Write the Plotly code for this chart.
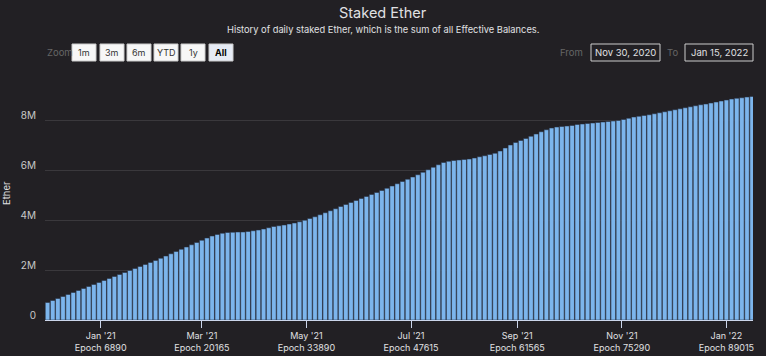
import pandas as pd
import plotly.graph_objects as go

# ---- data (values in millions of ETH, one bar per 3 days) ----
start_date = "2020-12-01"
staked_m = [
    0.70, 0.78, 0.86, 0.94, 1.02, 1.10, 1.18, 1.26, 1.34, 1.42,
    1.50, 1.58, 1.66, 1.74, 1.82, 1.90, 1.98, 2.06, 2.14, 2.22,
    2.30, 2.38, 2.47, 2.56, 2.65, 2.74, 2.83, 2.92, 3.01, 3.10,
    3.19, 3.28, 3.36, 3.42, 3.47, 3.50, 3.51, 3.52, 3.52, 3.54,
    3.57, 3.60, 3.64, 3.69, 3.74, 3.77, 3.80, 3.84, 3.88, 3.93,
    3.99, 4.06, 4.13, 4.21, 4.29, 4.37, 4.45, 4.54, 4.62, 4.70,
    4.78, 4.86, 4.94, 5.02, 5.10, 5.18, 5.27, 5.36, 5.45, 5.54,
    5.63, 5.72, 5.81, 5.91, 6.01, 6.11, 6.21, 6.30, 6.35, 6.38,
    6.40, 6.42, 6.44, 6.48, 6.53, 6.57, 6.62, 6.67, 6.76, 6.88,
    7.00, 7.10, 7.18, 7.26, 7.35, 7.44, 7.53, 7.61, 7.68, 7.72,
    7.74, 7.76, 7.78, 7.82, 7.84, 7.86, 7.88, 7.90, 7.92, 7.94,
    7.96, 7.98, 8.02, 8.07, 8.12, 8.15, 8.18, 8.21, 8.25, 8.29,
    8.33, 8.37, 8.41, 8.45, 8.49, 8.53, 8.57, 8.61, 8.64, 8.68,
    8.72, 8.76, 8.80, 8.84, 8.87, 8.89, 8.92, 8.94,
]
dates = pd.date_range(start_date, periods=len(staked_m), freq="3D")
values = [v * 1e6 for v in staked_m]

tick_dates = ["2021-01-01", "2021-03-01", "2021-05-01", "2021-07-01",
              "2021-09-01", "2021-11-01", "2022-01-01"]
tick_months = ["Jan '21", "Mar '21", "May '21", "Jul '21", "Sep '21", "Nov '21", "Jan '22"]
tick_epochs = ["6890", "20165", "33890", "47615", "61565", "75290", "89015"]
tick_text = [f"{m}<br>Epoch {e}" for m, e in zip(tick_months, tick_epochs)]

y_ticks = [0, 2e6, 4e6, 6e6, 8e6]
y_tick_text = ["0", "2M", "4M", "6M", "8M"]

zoom_buttons = ["1m", "3m", "6m", "YTD", "1y", "All"]
from_date = "Nov 30, 2020"
to_date = "Jan 15, 2022"

# ---- layout geometry (pixels) ----
W, H = 766, 356
L, R, T, B = 45, 13, 90, 36
PW, PH = W - L - R, H - T - B

def px(x):
    return (x - L) / PW

def py(y):
    return (H - B - y) / PH

BG = "#222024"
TXT = "#e0e0e3"

fig = go.Figure()
fig.add_trace(go.Bar(
    x=dates, y=values,
    marker=dict(color="#7cb5ec", line=dict(color="rgba(40,45,60,0.9)", width=0.6)),
    hoverinfo="skip",
))

shapes = []
annotations = []

# title & subtitle
annotations.append(dict(x=px(383), y=py(13), xref="paper", yref="paper", text="Staked Ether",
                        showarrow=False, font=dict(size=14.5, color=TXT, family="Inter"),
                        xanchor="center", yanchor="middle"))
annotations.append(dict(x=px(383), y=py(30), xref="paper", yref="paper",
                        text="History of daily staked Ether, which is the sum of all Effective Balances.",
                        showarrow=False, font=dict(size=9.3, color=TXT, family="Inter"),
                        xanchor="center", yanchor="middle"))

# y-axis title
annotations.append(dict(x=px(6), y=py(193), xref="paper", yref="paper", text="Ether",
                        showarrow=False, textangle=-90,
                        font=dict(size=9.5, color=TXT, family="Inter"),
                        xanchor="center", yanchor="middle"))

# zoom label & buttons
annotations.append(dict(x=px(45), y=py(52), xref="paper", yref="paper", text="Zoom",
                        showarrow=False, font=dict(size=9.5, color="#666666", family="Inter"),
                        xanchor="left", yanchor="middle"))
btn_x = [72, 100, 127, 154, 181, 209]
btn_w = 24
for i, (label, bx) in enumerate(zip(zoom_buttons, btn_x)):
    selected = label == "All"
    shapes.append(dict(type="rect", xref="paper", yref="paper",
                       x0=px(bx), x1=px(bx + btn_w), y0=py(44), y1=py(61),
                       fillcolor="#e6ebf5" if selected else "#f7f7f7",
                       line=dict(color="#cccccc", width=1), layer="above"))
    annotations.append(dict(x=px(bx + btn_w / 2), y=py(52.5), xref="paper", yref="paper",
                            text=f"<b>{label}</b>" if selected else label, showarrow=False,
                            font=dict(size=9, color="#000000" if selected else "#333333", family="Inter"),
                            xanchor="center", yanchor="middle"))

# from / to inputs
annotations.append(dict(x=px(585), y=py(52), xref="paper", yref="paper", text="From",
                        showarrow=False, font=dict(size=9.5, color="#666666", family="Inter"),
                        xanchor="right", yanchor="middle"))
shapes.append(dict(type="rect", xref="paper", yref="paper", x0=px(591), x1=px(660),
                   y0=py(44), y1=py(61), line=dict(color="#cccccc", width=1), layer="above"))
annotations.append(dict(x=px(625.5), y=py(52.5), xref="paper", yref="paper", text=from_date,
                        showarrow=False, font=dict(size=9.5, color=TXT, family="Inter"),
                        xanchor="center", yanchor="middle"))
annotations.append(dict(x=px(680), y=py(52), xref="paper", yref="paper", text="To",
                        showarrow=False, font=dict(size=9.5, color="#666666", family="Inter"),
                        xanchor="right", yanchor="middle"))
shapes.append(dict(type="rect", xref="paper", yref="paper", x0=px(685), x1=px(753),
                   y0=py(44), y1=py(61), line=dict(color="#cccccc", width=1), layer="above"))
annotations.append(dict(x=px(719), y=py(52.5), xref="paper", yref="paper", text=to_date,
                        showarrow=False, font=dict(size=9.5, color=TXT, family="Inter"),
                        xanchor="center", yanchor="middle"))

fig.update_layout(
    width=W, height=H,
    margin=dict(l=L, r=R, t=T, b=B, autoexpand=False),
    paper_bgcolor=BG, plot_bgcolor=BG,
    showlegend=False,
    bargap=0.1,
    font=dict(family="Inter", color=TXT),
    shapes=shapes, annotations=annotations,
)
fig.update_xaxes(
    type="date", automargin=False,
    range=["2020-11-29 12:00", "2022-01-16 12:00"],
    tickvals=tick_dates, ticktext=tick_text,
    ticks="outside", ticklen=7, tickcolor="#ccd6eb", tickwidth=1,
    showline=True, linecolor="#ccd6eb", linewidth=1,
    showgrid=False, zeroline=False,
    tickfont=dict(size=9, color=TXT, family="Inter"),
)
fig.update_yaxes(
    automargin=False,
    range=[0, 9.2e6],
    tickvals=y_ticks, ticktext=y_tick_text,
    showgrid=True, gridcolor="#3a383c", gridwidth=1,
    zeroline=False, showline=False,
    tickfont=dict(size=10, color="#c8c8c8", family="Inter"),
    ticklabelstandoff=8, ticklabelshift=-5,
)

fig.write_html(
    "out.html",
    config={"displayModeBar": False},
    post_script="document.body.style.margin='0px';document.body.style.background='#222024';",
)
